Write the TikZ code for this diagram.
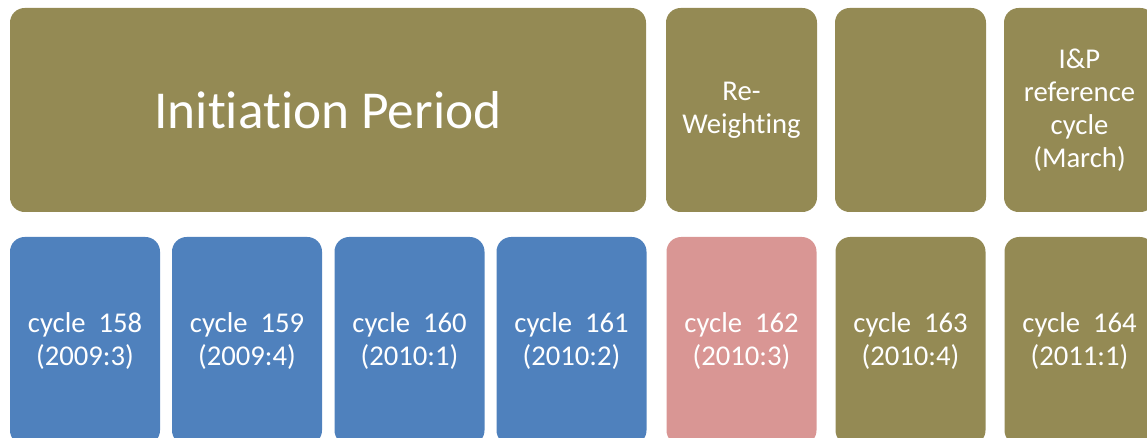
\documentclass[tikz,border=0pt]{standalone}
\usepackage{fontspec}
\setmainfont[Ligatures={NoCommon}]{Carlito}
\definecolor{olivebox}{HTML}{948A54}
\definecolor{bluebox}{HTML}{4F81BD}
\definecolor{pinkbox}{HTML}{D99694}
\begin{document}
\begin{tikzpicture}[x=0.75pt,y=-0.75pt,
  box/.style 2 args={rounded corners=11pt, inner sep=0pt, text=white, align=center,
    minimum width=#1*0.75pt, minimum height=#2*0.75pt,
    font=\fontsize{21.5pt}{24.75pt}\selectfont},
  topbox/.style={box={151}{204}, fill=olivebox},
  botbox/.style={box={150}{208}}]
\useasboundingbox (0,0) rectangle (1147,438);
\clip (0,0) rectangle (1147,438);
% top row
\node[box={636}{204}, fill=olivebox, font=\fontsize{40pt}{48pt}\selectfont] (init) at (328,110) {Initiation Period};
\node[topbox] (rew) at (741.5,110) {Re-\\Weighting};
\node[topbox] (empty) at (910.5,110) {};
\node[topbox] (ip) at (1079.5,110) {I\&P\\reference\\cycle\\(March)};
% bottom row
\node[botbox, fill=bluebox] (c158) at (85,341) {cycle~~158\\(2009:3)};
\node[botbox, fill=bluebox] (c159) at (247,341) {cycle~~159\\(2009:4)};
\node[botbox, fill=bluebox] (c160) at (409.5,341) {cycle~~160\\(2010:1)};
\node[botbox, fill=bluebox] (c161) at (571.5,341) {cycle~~161\\(2010:2)};
\node[botbox, fill=pinkbox] (c162) at (741.5,341) {cycle~~162\\(2010:3)};
\node[botbox, fill=olivebox] (c163) at (910.5,341) {cycle~~163\\(2010:4)};
\node[botbox, fill=olivebox] (c164) at (1079.5,341) {cycle~~164\\(2011:1)};
\end{tikzpicture}
\end{document}
